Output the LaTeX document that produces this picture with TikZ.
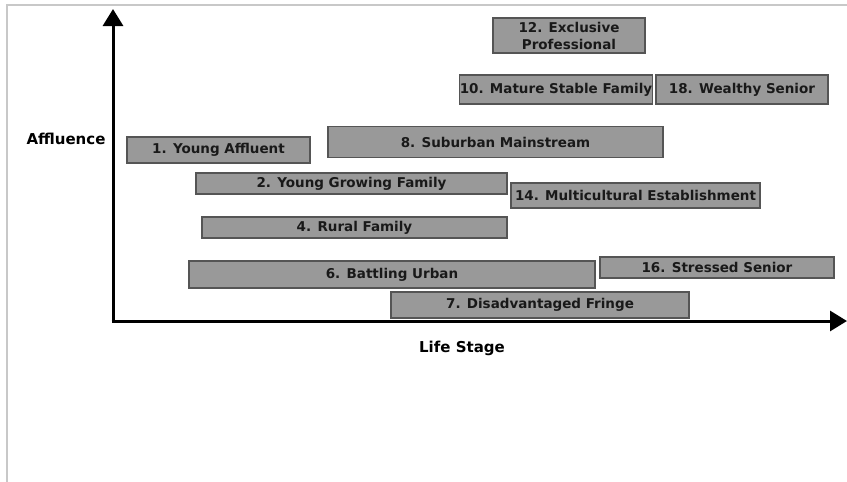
\documentclass[tikz,border=0pt]{standalone}
\usepackage{fontspec}
\setmainfont{DejaVu Sans}
\usetikzlibrary{arrows.meta}
\definecolor{boxfill}{RGB}{153,153,153}
\definecolor{boxline}{RGB}{85,85,85}
\definecolor{framegray}{RGB}{200,200,200}
\tikzset{
  segbox/.style={draw=boxline, fill=boxfill, line width=1.2pt, inner sep=0pt,
    font=\bfseries\fontsize{13.5}{17}\selectfont, align=center, text=black!90},
  axislabel/.style={font=\bfseries\fontsize{15}{18}\selectfont, inner sep=0pt},
  axisline/.style={line width=3pt, -{Triangle[length=17pt,width=20pt]}},
}
\begin{document}
\begin{tikzpicture}[x=1pt,y=-1pt]
\useasboundingbox (0,0) rectangle (847,482);
\fill[white] (0,0) rectangle (847,482);
% frame
\draw[framegray, line width=2pt] (7,482) -- (7,5) -- (847,5);
% axes
\coordinate (O) at (113,321);
\coordinate (Ytop) at (113,9);
\coordinate (Xend) at (847,321);
\draw[axisline] (O) -- (Ytop);
\draw[axisline] ([xshift=-1.5pt]O) -- (Xend);
\node[axislabel] (aff) at (66,139) {Affluence};
\node[axislabel] (life) at (462,348) {Life Stage};
% boxes
\node[segbox, minimum width=152pt, minimum height=35pt] (b12) at (569,35.5) {12. Exclusive\\Professional};
\node[segbox, minimum width=190pt, minimum height=29pt] (b10) at (556,89.5) {10. Mature Stable Family};
\node[segbox, minimum width=172pt, minimum height=29pt] (b18) at (742,89.5) {18. Wealthy Senior};
\node[segbox, minimum width=335pt, minimum height=31pt] (b8) at (495.5,142) {8. Suburban Mainstream};
\node[segbox, minimum width=183pt, minimum height=26pt] (b1) at (218.5,150) {1. Young Affluent};
\node[segbox, minimum width=311pt, minimum height=21pt] (b2) at (351.5,183.5) {2. Young Growing Family};
\node[segbox, minimum width=249pt, minimum height=25pt] (b14) at (635.5,195.5) {14. Multicultural Establishment};
\node[segbox, minimum width=305pt, minimum height=21pt] (b4) at (354.5,227.5) {4. Rural Family};
\node[segbox, minimum width=406pt, minimum height=27pt] (b6) at (392,274.5) {6. Battling Urban};
\node[segbox, minimum width=234pt, minimum height=21pt] (b16) at (717,267.5) {16. Stressed Senior};
\node[segbox, minimum width=298pt, minimum height=26pt] (b7) at (540,305) {7. Disadvantaged Fringe};
\end{tikzpicture}
\end{document}
